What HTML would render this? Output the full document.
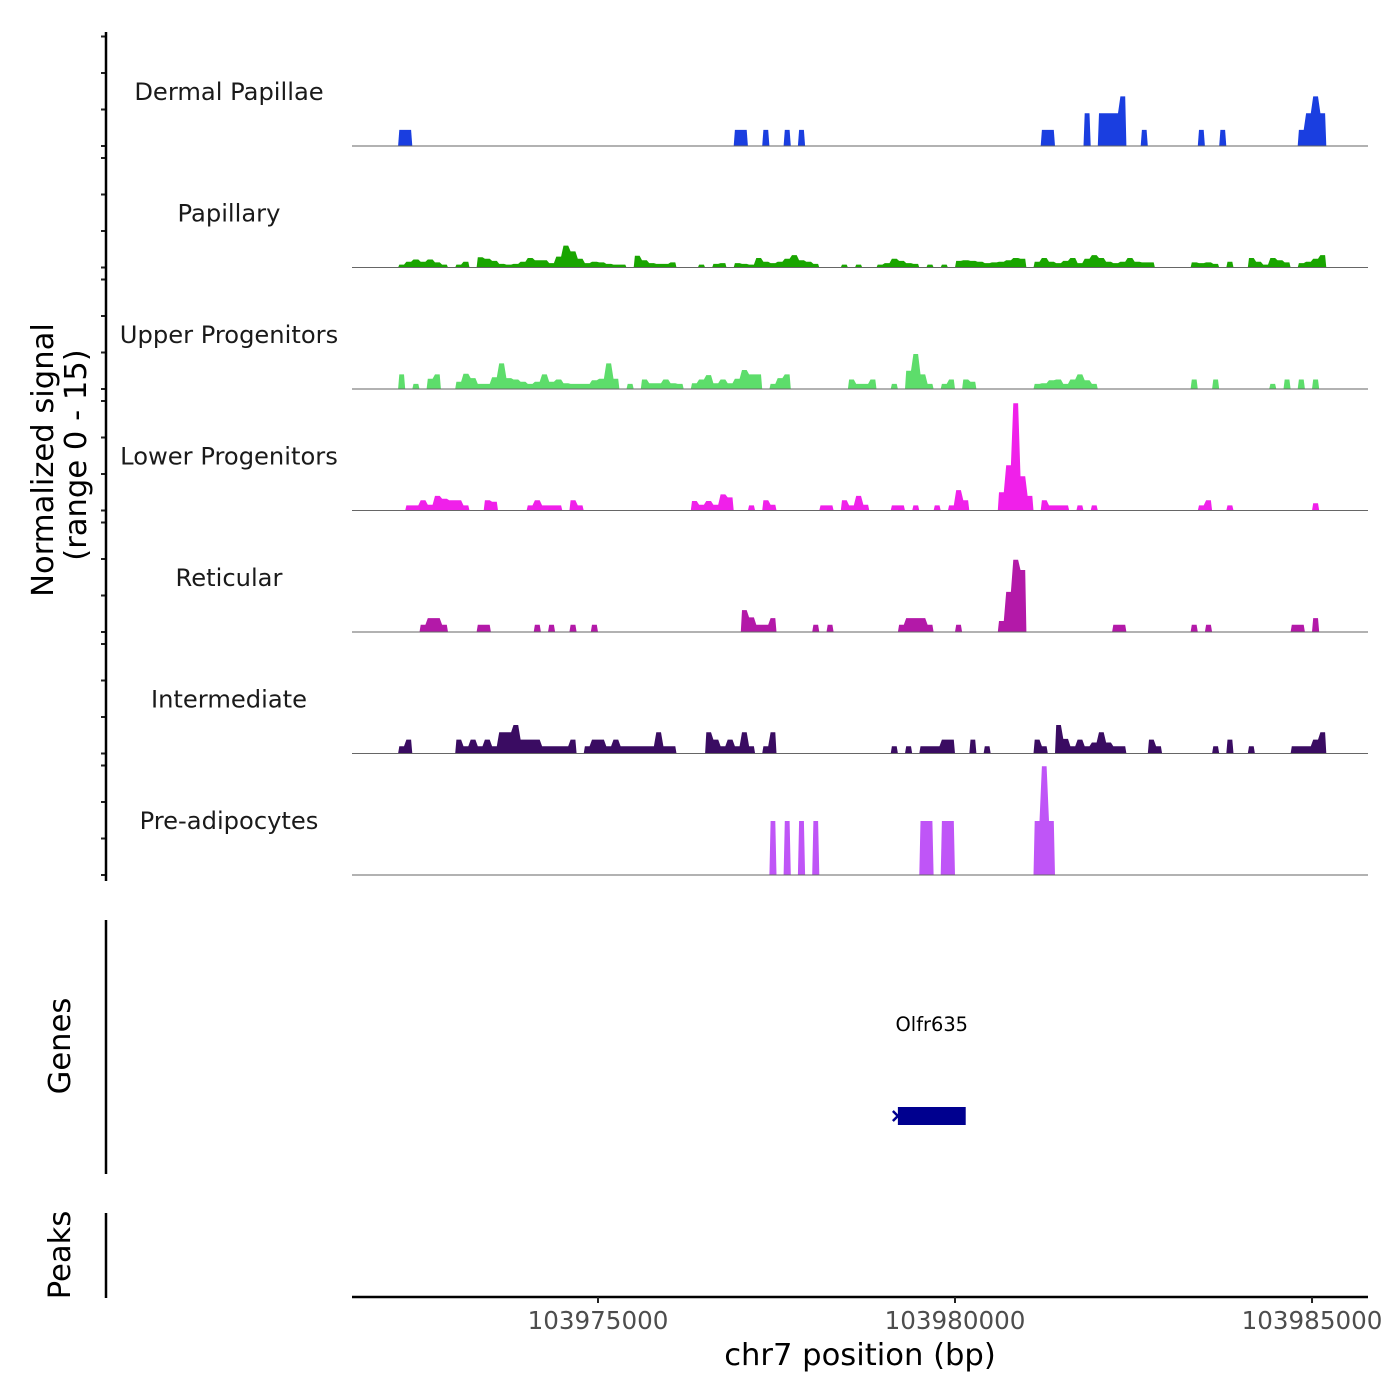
<!DOCTYPE html>
<html><head><meta charset="utf-8"><style>
html,body{margin:0;padding:0;background:#fff;}
svg{display:block;font-family:"DejaVu Sans","Liberation Sans",sans-serif;}
</style></head><body>
<svg id="chart" width="1400" height="1400" viewBox="0 0 1400 1400" xmlns="http://www.w3.org/2000/svg">
<g id="tracks"></g>
<g id="axes"></g>
</svg>
<script>
// ---- data (signal values 0-15, sparse bins of 100 bp starting at 103972100) ----
const trackNames = ["Dermal Papillae","Papillary","Upper Progenitors","Lower Progenitors","Reticular","Intermediate","Pre-adipocytes"];
const trackColors = ["#1a3ee0","#19a500","#5ddd6b","#f020ea","#b319a8","#3a0c62","#bf55f7"];

const dpBins = [1,2,48,49,52,55,57,91,92,97,99,100,101,102,105,113,116,127,128,129,130];
const dpVals = [2.2,2.2,2.2,2.2,2.2,2.2,2.2,2.2,2.2,4.5,4.5,4.5,4.5,6.8,2.2,2.2,2.2,2.2,4.5,6.8,4.5];

const papBins = [1,2,3,4,5,6,7,9,10,12,13,14,15,16,17,18,19,20,21,22,23,24,25,26,27,28,29,30,31,32,34,35,36,37,38,39,43,45,46,48,49,50,51,52,53,54,55,56,57,58,59,63,65,68,69,70,71,72,73,75,77,79,80,81,82,83,84,85,86,87,88,90,91,92,93,94,95,96,97,98,99,100,101,102,103,104,105,106,112,113,114,115,117,120,121,122,123,124,125,127,128,129,130];
const papVals = [.4,.8,1.1,.8,1.1,.7,.4,.4,.8,1.4,1.2,.9,.5,.4,.5,.8,1.3,1.0,1.0,.6,1.5,3.0,2.2,1.2,.6,.8,.7,.5,.4,.4,1.6,1.0,.6,.5,.5,.7,.4,.5,.6,.6,.5,.4,1.3,.8,.6,.8,1.2,1.7,1.0,.8,.5,.4,.4,.4,.6,1.2,.9,.6,.5,.4,.4,.9,1.0,.9,.8,.6,.7,.8,1.0,1.3,1.2,.8,1.3,.8,.6,.9,1.3,.6,1.2,1.7,1.3,.8,.6,.8,1.3,.8,.7,.7,.7,.6,.7,.5,.8,1.3,.8,.4,1.3,1.0,.7,.6,.8,1.2,1.7];

const upBins = [1,3,5,6,9,10,11,12,13,14,15,16,17,18,19,20,21,22,23,24,25,26,27,28,29,30,31,33,35,36,37,38,39,40,42,43,44,45,46,47,48,49,50,51,53,54,55,64,65,66,67,70,72,73,74,75,77,78,80,81,90,91,92,93,94,95,96,97,98,112,115,123,125,127,129];
const upVals = [2.0,.7,1.4,2.0,1.0,2.1,1.5,.7,.7,1.6,3.5,1.5,1.3,1.0,.7,1.0,2.0,1.0,1.3,.8,.7,.7,.7,1.2,1.4,3.5,1.4,.7,1.3,.8,.8,1.3,.8,.7,.8,1.3,1.9,.8,1.3,.8,1.4,2.6,2.0,2.0,.7,1.5,2.0,1.3,.7,.7,1.3,.7,2.5,4.8,2.0,.7,.7,1.3,1.3,1.0,.7,.8,1.2,1.3,.7,1.3,2.0,1.2,.7,1.3,1.3,.7,1.3,1.3,1.3];

const lpBins = [2,3,4,5,6,7,8,9,10,13,14,19,20,21,22,23,25,26,42,43,44,45,46,47,50,52,53,60,61,63,64,65,66,70,71,73,76,78,79,80,85,86,87,88,89,91,92,93,94,96,98,113,114,117,129];
const lpVals = [.7,.7,1.4,.8,2.0,1.6,1.4,1.4,.7,1.4,1.2,.7,1.4,.7,.7,.7,1.4,.7,1.3,.8,1.3,.8,2.2,1.8,.7,1.4,.8,.7,.7,1.4,.7,2.0,.8,.7,.7,.7,.7,.7,2.8,1.4,2.5,6.2,14.7,4.7,2.0,1.4,.7,.7,.7,.7,.7,.7,1.4,.7,1.0];

const retBins = [4,5,6,7,12,13,20,22,25,28,49,50,51,52,53,59,61,71,72,73,74,75,79,85,86,87,88,101,102,112,114,126,127,129];
const retVals = [1.0,1.9,1.9,1.0,1.0,1.0,1.0,1.0,1.0,1.0,3.0,2.0,1.0,1.0,1.9,1.0,1.0,1.0,1.9,1.9,1.9,1.0,1.0,1.5,5.5,9.9,8.5,1.0,1.0,1.0,1.0,1.0,1.0,1.9];

const intBins = [1,2,9,10,11,12,13,14,15,16,17,18,19,20,21,22,23,24,25,27,28,29,30,31,32,33,34,35,36,37,38,39,44,45,46,47,48,49,50,52,53,70,72,74,75,76,77,78,81,83,90,91,93,94,95,96,97,98,99,100,101,102,106,107,115,117,120,126,127,128,129,130];
const intVals = [1.0,1.9,1.9,1.0,1.9,1.0,1.9,1.0,2.9,2.9,3.9,1.9,1.9,1.9,1.0,1.0,1.0,1.0,1.9,1.0,1.9,1.9,1.0,1.9,1.0,1.0,1.0,1.0,1.0,2.9,1.0,1.0,2.9,1.9,1.0,1.9,1.0,2.9,1.0,1.0,2.9,1.0,1.0,1.0,1.0,1.0,1.9,1.9,1.9,1.0,1.9,1.0,3.9,2.0,1.0,1.9,1.0,1.5,2.9,1.5,1.0,1.0,1.9,1.0,1.0,1.9,1.0,1.0,1.0,1.0,1.9,2.9];

const preBins = [53,55,57,59,74,75,77,78,90,91,92];
const preVals = [7.4,7.4,7.4,7.4,7.4,7.4,7.4,7.4,7.4,14.9,7.4];

const xTicks = [103975000,103980000,103985000];
const xTickLabels = ["103975000","103980000","103985000"];
const genes = ["Olfr635"];
const geneStart = [103979200];
const geneEnd = [103980150];

// ---- scales ----
const NS = "http://www.w3.org/2000/svg";
const X0 = 352, X1 = 1368, BP0 = 103971555, BP1 = 103985784;
function xScale(bp){ return X0 + (bp - BP0) * (X1 - X0) / (BP1 - BP0); }
const BIN0 = 103972100, BINW = 100, NB = 131;
const baseY = k => 146 + 121.5 * k;
const YPX = 109.5 / 15;
function yScale(k, v){ return baseY(k) - v * YPX; }
function mk(tag, attrs, parent){ const e = document.createElementNS(NS, tag); for (const a in attrs) e.setAttribute(a, attrs[a]); parent.appendChild(e); return e; }

const tracksG = document.getElementById('tracks');
const axesG = document.getElementById('axes');
const allBins = [dpBins,papBins,upBins,lpBins,retBins,intBins,preBins];
const allVals = [dpVals,papVals,upVals,lpVals,retVals,intVals,preVals];

for (let k = 0; k < 7; k++){
  const vals = new Array(NB).fill(0);
  allBins[k].forEach((b,i) => { vals[b] = allVals[k][i]; });
  const g = mk('g', {}, tracksG);
  
  
  let i = 0;
  while (i < NB){
    if (vals[i] > 0){
      let j = i; while (j < NB && vals[j] > 0) j++;
      const pts = [];
      const b = baseY(k);
      pts.push([xScale(BIN0 + i*BINW), b]);
      for (let m = i; m < j; m++){
        const xl = xScale(BIN0 + m*BINW), xr = xScale(BIN0 + (m+1)*BINW);
        const y = yScale(k, vals[m]);
        pts.push([xl + 1.2, y]); pts.push([xr - 1.2, y]);
      }
      pts.push([xScale(BIN0 + j*BINW), b]);
      const p = mk('polygon', {points: pts.map(q => q[0].toFixed(1)+','+q[1].toFixed(1)).join(' '), fill: trackColors[k]}, g);
      
      
      i = j;
    } else i++;
  }
  const bl = mk('line', {x1: X0, x2: X1, y1: baseY(k), y2: baseY(k), stroke: '#666', 'stroke-width': 1}, g);
  
  
  const t = mk('text', {x: 229, y: baseY(k) - 46, 'text-anchor': 'middle', 'font-size': 24.2, fill: '#1a1a1a'}, g);
  t.textContent = trackNames[k];
  
  
  for (let v = 0; v <= 15; v += 5){
    const ty = yScale(k, v);
    const tk = mk('line', {x1: 101, x2: 106, y1: ty, y2: ty, stroke: '#222', 'stroke-width': 2}, axesG);
    
    
  }
}
[[32,881],[920,1174],[1213,1298]].forEach((r,i) => {
  const l = mk('line', {x1: 106, x2: 106, y1: r[0], y2: r[1], stroke: '#000', 'stroke-width': 2.5}, axesG);
  
  
});
function rotText(x, y, s, size, name){
  const t = mk('text', {x: x, y: y, 'text-anchor': 'middle', 'font-size': size, fill: '#000', transform: 'rotate(-90 '+x+' '+y+')'}, axesG);
  t.textContent = s;
  
  
}
rotText(53, 460, 'Normalized signal', 30.6, 'y-axis-title');
rotText(86, 455, '(range 0 - 15)', 30.6, 'y-axis-subtitle');
rotText(70, 1046, 'Genes', 30.6, 'genes-panel-title');
rotText(70, 1255, 'Peaks', 30.6, 'peaks-panel-title');

genes.forEach((gname, i) => {
  const gx0 = xScale(geneStart[i]), gx1 = xScale(geneEnd[i]);
  const gg = mk('g', {}, axesG);
  
  
  const r = mk('rect', {x: gx0, y: 1107, width: gx1 - gx0, height: 18, fill: '#00008f'}, gg);
  
  
  const ch = mk('path', {d: 'M'+(gx0-5)+',1111 L'+(gx0)+',1116 L'+(gx0-5)+',1121', stroke: '#00008f', 'stroke-width': 2.5, fill: 'none'}, gg);
  
  
  const t = mk('text', {x: (gx0+gx1)/2, y: 1031, 'text-anchor': 'middle', 'font-size': 19.4, fill: '#000'}, gg);
  t.textContent = gname;
  
  
});

const xa = mk('line', {x1: X0, x2: X1, y1: 1297, y2: 1297, stroke: '#000', 'stroke-width': 2.5}, axesG);


xTicks.forEach((v, i) => {
  const x = xScale(v);
  const tk = mk('line', {x1: x, x2: x, y1: 1297, y2: 1303, stroke: '#222', 'stroke-width': 2}, axesG);
  
  
  const t = mk('text', {x: x, y: 1329, 'text-anchor': 'middle', 'font-size': 24.6, fill: '#4d4d4d'}, axesG);
  t.textContent = xTickLabels[i];
  
  
});
const xt = mk('text', {x: 860, y: 1365, 'text-anchor': 'middle', 'font-size': 30.6, fill: '#000'}, axesG);
xt.textContent = 'chr7 position (bp)';


</script>
</body></html>
